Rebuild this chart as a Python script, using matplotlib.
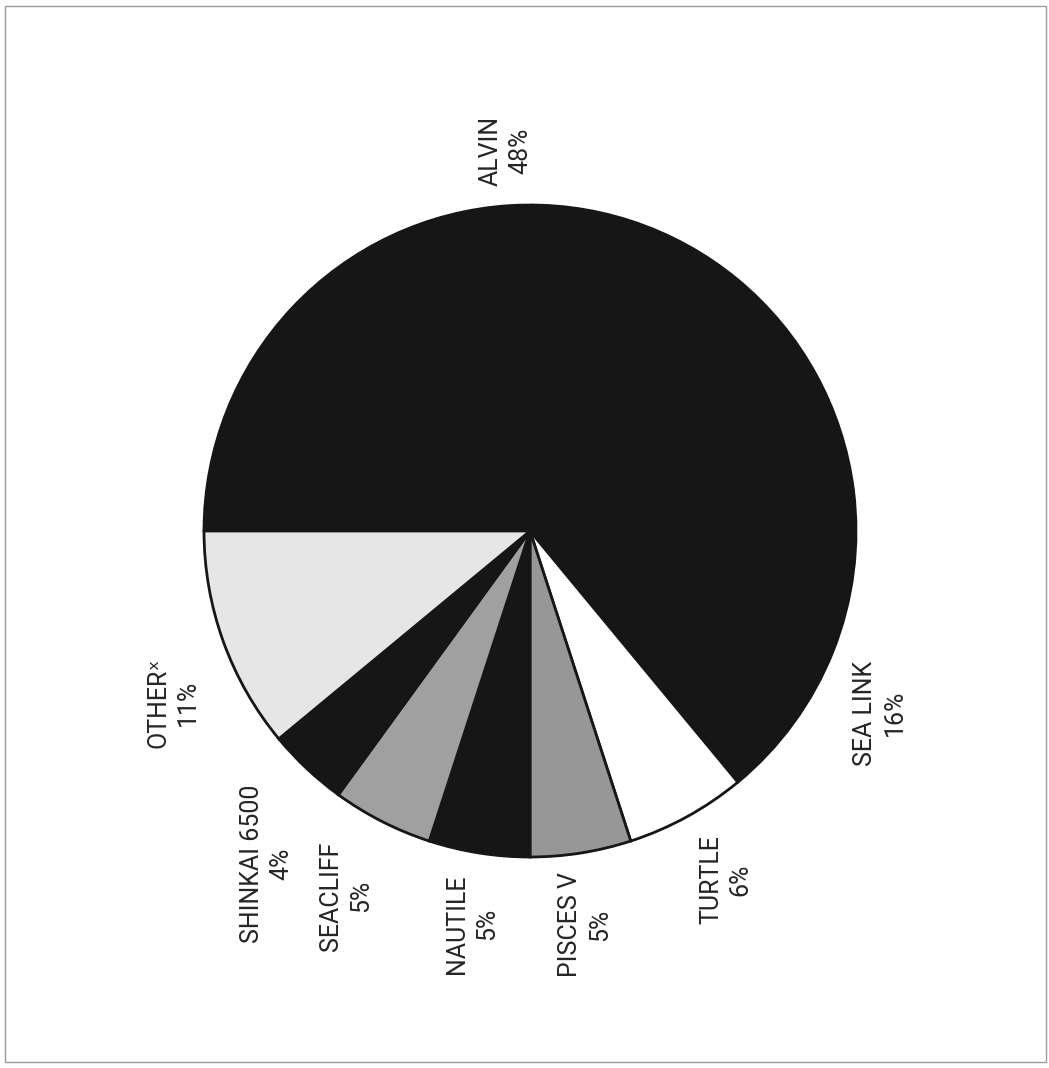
import matplotlib
matplotlib.use("Agg")
import matplotlib.pyplot as plt
from matplotlib.patches import Rectangle

# share of dives by submersible (percent)
names = ["ALVIN", "SEA LINK", "TURTLE", "PISCES V", "NAUTILE", "SEACLIFF", "SHINKAI 6500", "OTHER\u02e3"]
shares = [48, 16, 6, 5, 5, 5, 4, 11]
fills = ["#161616", "#161616", "#ffffff", "#979797", "#161616", "#a0a0a0", "#161616", "#e6e6e6"]

# label centres in image pixels (x, y from top)
label_xy = [(506, 151), (880, 713), (726, 880), (585, 925),
            (472, 924), (346, 896), (267, 864), (173, 703)]

W, H = 1049, 1068
fig = plt.figure(figsize=(W / 100, H / 100), dpi=100)
ax = fig.add_axes([0, 0, 1, 1])

cx, cy, r = 530, H - 531, 326
ax.pie(shares, colors=fills, startangle=180, counterclock=False,
       center=(cx, cy), radius=r, frame=True,
       wedgeprops=dict(edgecolor="#161616", linewidth=2))
ax.set_xlim(0, W)
ax.set_ylim(0, H)
ax.set_aspect("equal")
ax.axis("off")

font = ["Liberation Sans Narrow", "Roboto", "DejaVu Sans"]
for name, val, (x, y) in zip(names, shares, label_xy):
    ax.text(x, H - y, f"{name}\n{val}%", rotation=90, ha="center", va="center",
            multialignment="center", fontsize=18, color="#252525",
            family=font, linespacing=1.3)

# scanned page frame
ax.add_patch(Rectangle((5, 6), 1041, 1056, fill=False, edgecolor="#9a9a9a", linewidth=1))

fig.savefig("out.png", dpi=100)
